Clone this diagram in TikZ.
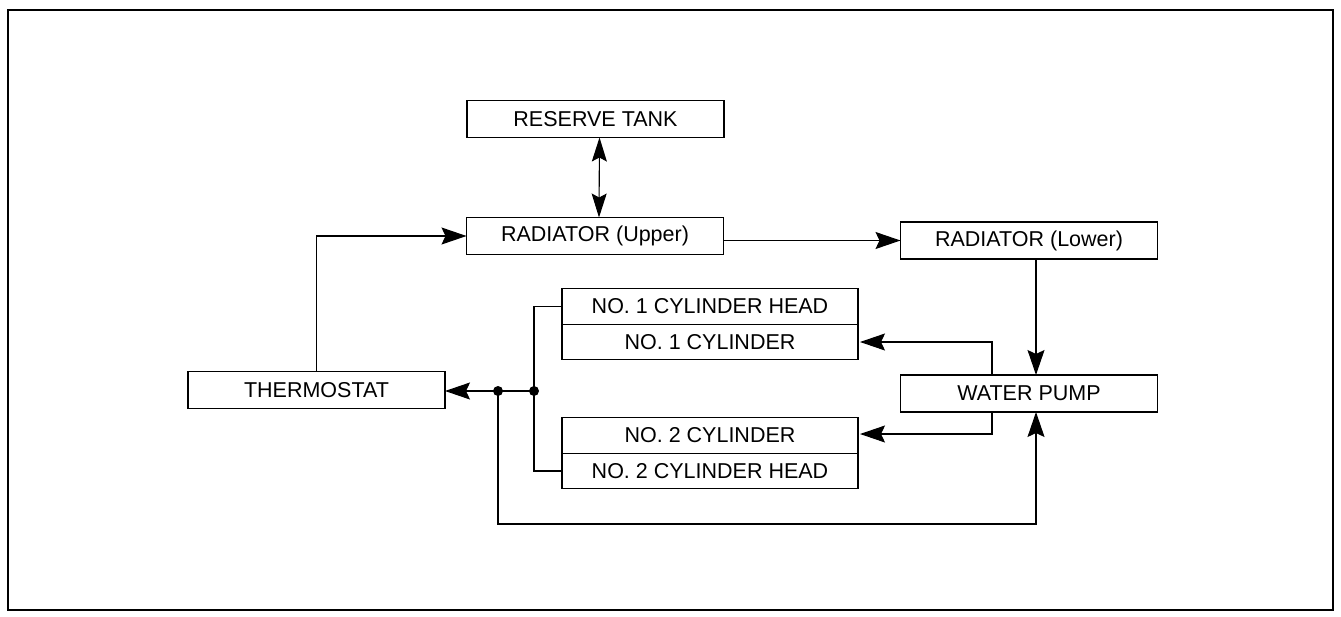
\documentclass[tikz,border=0pt]{standalone}
\usepackage{fontspec}
\setmainfont{Liberation Sans}
\usetikzlibrary{arrows.meta, positioning}
\tikzset{
    unit/.style={draw, line width=1.1pt, minimum width=257pt, minimum height=37pt, inner sep=0pt, outer sep=0pt, font=\fontsize{21.5}{24}\selectfont},
    part/.style={unit, minimum width=296pt, minimum height=35.5pt},
    flow/.style={-{Stealth[length=25pt, width=17pt, inset=4pt]}, line width=1.1pt},
    both/.style={{Stealth[length=24pt, width=15pt, inset=4pt]}-{Stealth[length=24pt, width=15pt, inset=4pt]}, line width=1.1pt},
    pipe/.style={line width=1.1pt}
}
\begin{document}
\begin{tikzpicture}[x=1pt, y=-1pt]
    \useasboundingbox (0,0) rectangle (1341,616);
    \draw[line width=1.2pt] (8,10) rectangle (1333,610);
    \node[unit] (tank) at (595.5,119) {RESERVE TANK};
    \node[unit] (radup) at (595,236) {RADIATOR (Upper)};
    \node[unit] (radlow) at (1029,240.5) {RADIATOR (Lower)};
    \node[unit] (pump) at (1029,393.5) {WATER PUMP};
    \node[unit] (thermo) at (316.5,390) {THERMOSTAT};
    % cylinder block
    \node[part] (head1) at (710,306.5) {NO. 1 CYLINDER HEAD};
    \node[part, below=0pt of head1] (cyl1) {NO. 1 CYLINDER};
    \node[part] (cyl2) at (710,435.5) {NO. 2 CYLINDER};
    \node[part, below=0pt of cyl2] (head2) {NO. 2 CYLINDER HEAD};
    \coordinate (jl) at (498,391); \coordinate (jr) at (534,391);
    \coordinate (bot) at (1036,524);

    \draw[both] ([xshift=4pt]tank.south) -- ([xshift=4pt]radup.north);
    \draw[flow] (radlow.west -| radup.east) -- (radlow.west);
    \draw[flow] ([xshift=7pt]radlow.south) -- ([xshift=7pt]pump.north);
    \draw[flow] ([xshift=-37pt]pump.north) |- ([xshift=2pt]cyl1.east);
    \draw[flow] ([xshift=-37pt]pump.south) |- ([xshift=2pt,yshift=1.5pt]cyl2.east);
    \draw[pipe] (head1.west) -| (jr) |- (head2.west);
    \draw[flow] (jr) -- (thermo.east |- jr);
    \draw[flow] (jl) |- (bot) -- ([xshift=7pt]pump.south);
    \draw[flow] (thermo.north) |- (radup.west);
    \fill (jl) circle (5pt); \fill (jr) circle (5pt);
\end{tikzpicture}
\end{document}
